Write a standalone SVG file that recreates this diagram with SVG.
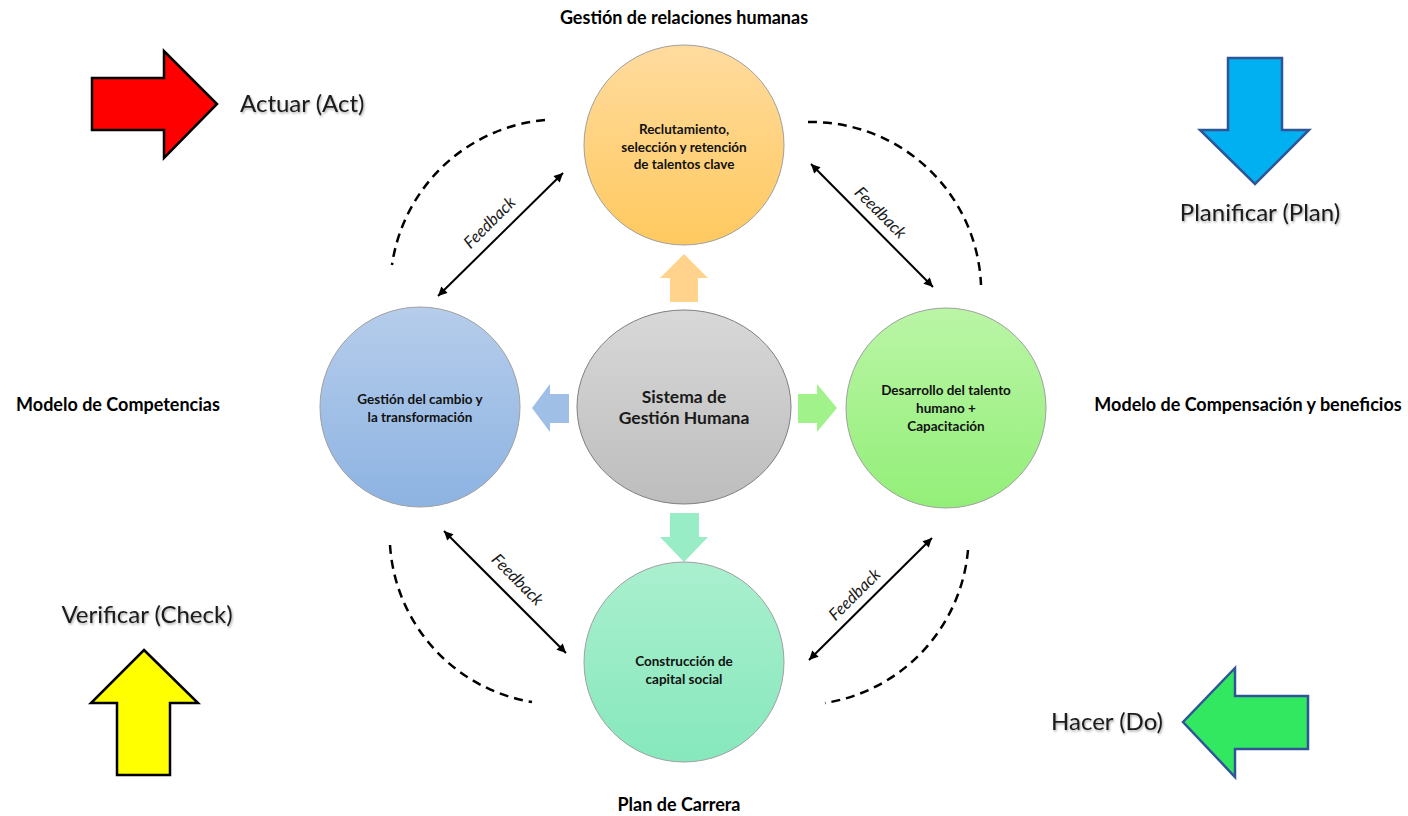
<svg xmlns="http://www.w3.org/2000/svg" width="1408" height="816" viewBox="0 0 1408 816">
<style>
  .node { stroke: #A0A0A0; stroke-width: 1; }
  .ntext { font-family: Lato, "Open Sans", "Liberation Sans", sans-serif; font-weight: bold; font-size: 13.5px; fill: #111; text-anchor: middle; }
  .ctext { font-family: Lato, "Open Sans", "Liberation Sans", sans-serif; font-weight: bold; font-size: 17.5px; fill: #1a1a1a; text-anchor: middle; }
  .outer { font-family: Lato, "Open Sans", "Liberation Sans", sans-serif; font-weight: bold; font-size: 18px; fill: #000; text-anchor: middle; }
  .pdca { font-family: Lato, "Open Sans", "Liberation Sans", sans-serif; font-size: 24px; fill: #1a1a1a; filter: url(#shadow); }
  .fb { font-family: Lato, "Open Sans", "Liberation Sans", sans-serif; font-style: italic; font-size: 16.5px; fill: #1a1a1a; text-anchor: middle; }
  .fbline { stroke: #000; stroke-width: 2; fill: none; marker-start: url(#ah); marker-end: url(#ah); }
  .dash { stroke: #000; stroke-width: 2.5; fill: none; stroke-dasharray: 9 6; }
  .bigblack { stroke: #000; stroke-width: 2.5; stroke-linejoin: miter; }
  .bigblue { stroke: #2F5597; stroke-width: 2.5; stroke-linejoin: miter; }
</style>
<defs>
  <filter id="shadow" x="-10%" y="-30%" width="130%" height="170%">
    <feDropShadow dx="1" dy="1.5" stdDeviation="1" flood-color="#000" flood-opacity="0.35"/>
  </filter>
  <marker id="ah" viewBox="0 0 10 10" refX="10" refY="5" markerUnits="userSpaceOnUse" markerWidth="11" markerHeight="9" orient="auto-start-reverse">
    <path d="M0,0 L10,5 L0,10 z" fill="#000"/>
  </marker>
  <linearGradient id="gOrange" x1="0" y1="0" x2="0" y2="1">
    <stop offset="0" stop-color="#FFDB9E"/><stop offset="1" stop-color="#FFC95F"/>
  </linearGradient>
  <linearGradient id="gGray" x1="0" y1="0" x2="0" y2="1">
    <stop offset="0" stop-color="#D8D8D8"/><stop offset="1" stop-color="#BDBDBD"/>
  </linearGradient>
  <linearGradient id="gBlue" x1="0" y1="0" x2="0" y2="1">
    <stop offset="0" stop-color="#B6CDEB"/><stop offset="1" stop-color="#8DB3E2"/>
  </linearGradient>
  <linearGradient id="gGreen" x1="0" y1="0" x2="0" y2="1">
    <stop offset="0" stop-color="#BAF5A6"/><stop offset="1" stop-color="#93EF78"/>
  </linearGradient>
  <linearGradient id="gTeal" x1="0" y1="0" x2="0" y2="1">
    <stop offset="0" stop-color="#AAEFCF"/><stop offset="1" stop-color="#86E8BC"/>
  </linearGradient>
</defs>
<rect width="1408" height="816" fill="#FFFFFF"/>

<g id="pdca-act">
  <path class="bigblack" d="M92,78 L164,78 L164,51 L217,104 L164,158 L164,130 L92,130 Z" fill="#FF0000"/>
  <text class="pdca" x="240" y="112">Actuar (Act)</text>
</g>
<g id="pdca-plan">
  <path class="bigblue" d="M1228,58 L1282,58 L1282,130 L1309,130 L1255,184 L1200,130 L1228,130 Z" fill="#00B0F0"/>
  <text class="pdca" x="1260" y="221" text-anchor="middle">Planificar (Plan)</text>
</g>
<g id="pdca-check">
  <path class="bigblack" d="M144,650 L198,703 L170,703 L170,775 L117,775 L117,703 L91,703 Z" fill="#FFFF00"/>
  <text class="pdca" x="147" y="623" text-anchor="middle">Verificar (Check)</text>
</g>
<g id="pdca-do">
  <path class="bigblue" d="M1183,722 L1235,668 L1235,696 L1308,696 L1308,749 L1235,749 L1235,777 Z" fill="#33E861"/>
  <text class="pdca" x="1163" y="730" text-anchor="end">Hacer (Do)</text>
</g>

<g id="outer-labels">
  <text class="outer" x="684" y="24">Gestión de relaciones humanas</text>
  <text class="outer" x="118" y="411">Modelo de Competencias</text>
  <text class="outer" x="1248" y="411">Modelo de Compensación y beneficios</text>
  <text class="outer" x="679" y="811">Plan de Carrera</text>
</g>

<g id="connectors">
  <path class="dash" d="M545,120 A170,170 0 0 0 392,265"/>
  <path class="dash" d="M808,122 A170,170 0 0 1 981,285"/>
  <path class="dash" d="M390,545 A170,170 0 0 0 532,702"/>
  <path class="dash" d="M968,550 A170,170 0 0 1 825,703"/>
  <line class="fbline" x1="563" y1="173" x2="438" y2="296"/>
  <line class="fbline" x1="811" y1="164" x2="933" y2="287"/>
  <line class="fbline" x1="444" y1="531" x2="566" y2="653"/>
  <line class="fbline" x1="932" y1="538" x2="809" y2="660"/>
  <text class="fb" transform="translate(490,223) rotate(-45)" y="5">Feedback</text>
  <text class="fb" transform="translate(880,213) rotate(45)" y="5">Feedback</text>
  <text class="fb" transform="translate(517,580) rotate(45)" y="5">Feedback</text>
  <text class="fb" transform="translate(855,595) rotate(-45)" y="5">Feedback</text>
  <path d="M684,254 L708,278 L698,278 L698,302 L670,302 L670,278 L660,278 Z" fill="#FFD38C"/>
  <path d="M532,408 L550,384 L550,394 L569,394 L569,423 L550,423 L550,432 Z" fill="#A0BFE7"/>
  <path d="M837,408 L817,384 L817,394 L798,394 L798,423 L817,423 L817,432 Z" fill="#A2F28C"/>
  <path d="M684,562 L708,537 L699,537 L699,513 L670,513 L670,537 L660,537 Z" fill="#98ECC6"/>
</g>

<g id="node-center">
  <ellipse cx="684" cy="407" rx="107" ry="97" fill="url(#gGray)" stroke="#808080" stroke-width="1"/>
  <text class="ctext" x="684" y="403">Sistema de</text>
  <text class="ctext" x="684" y="424">Gestión Humana</text>
</g>
<g id="node-top">
  <circle class="node" cx="684" cy="145" r="100" fill="url(#gOrange)"/>
  <text class="ntext" x="684" y="134">Reclutamiento,</text>
  <text class="ntext" x="684" y="152">selección y retención</text>
  <text class="ntext" x="684" y="169">de talentos clave</text>
</g>
<g id="node-left">
  <circle class="node" cx="420" cy="407" r="100" fill="url(#gBlue)"/>
  <text class="ntext" x="420" y="404">Gestión del cambio y</text>
  <text class="ntext" x="420" y="422">la transformación</text>
</g>
<g id="node-right">
  <circle class="node" cx="946" cy="408" r="100" fill="url(#gGreen)"/>
  <text class="ntext" x="946" y="395">Desarrollo del talento</text>
  <text class="ntext" x="946" y="413">humano +</text>
  <text class="ntext" x="946" y="431">Capacitación</text>
</g>
<g id="node-bottom">
  <circle class="node" cx="684" cy="662" r="100" fill="url(#gTeal)"/>
  <text class="ntext" x="684" y="666">Construcción de</text>
  <text class="ntext" x="684" y="684">capital social</text>
</g>
</svg>
